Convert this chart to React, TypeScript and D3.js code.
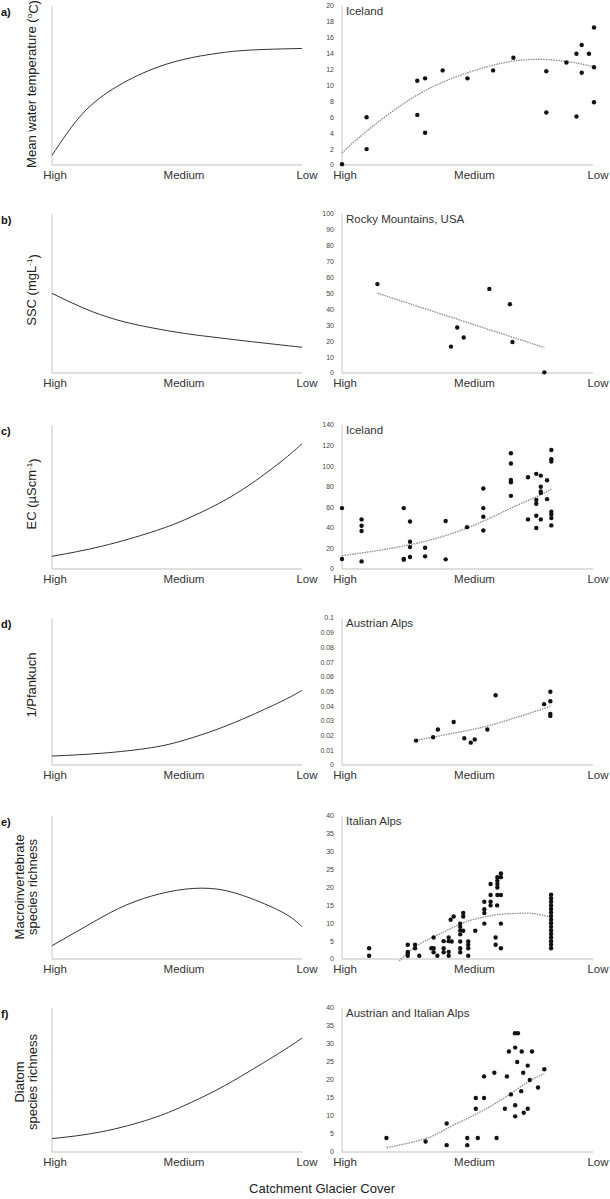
import React from "react";
import * as d3 from "d3";

// ---------- data ----------
const categories = ["High", "Medium", "Low"];
const panelLetters = ["a)", "b)", "c)", "d)", "e)", "f)"];
const regions = ["Iceland", "Rocky Mountains, USA", "Iceland", "Austrian Alps", "Italian Alps", "Austrian and Italian Alps"];
const xTitle = "Catchment Glacier Cover";

// conceptual curves (x: 0=High .. 1=Low, y: relative 0..1)
const conceptA: [number, number][] = [[0, 0.061], [0.123, 0.324], [0.258, 0.492], [0.392, 0.597], [0.526, 0.664], [0.66, 0.702], [0.795, 0.723], [1.0, 0.733]];
const conceptB: [number, number][] = [[0, 0.501], [0.128, 0.407], [0.262, 0.333], [0.396, 0.285], [0.53, 0.249], [0.664, 0.222], [0.799, 0.197], [1.0, 0.162]];
const conceptC: [number, number][] = [[0, 0.088], [0.199, 0.158], [0.398, 0.256], [0.531, 0.342], [0.664, 0.452], [0.797, 0.592], [0.93, 0.765], [1.0, 0.87]];
const conceptD: [number, number][] = [[0, 0.061], [0.199, 0.08], [0.398, 0.118], [0.531, 0.17], [0.664, 0.245], [0.797, 0.338], [0.93, 0.443], [1.0, 0.508]];
const conceptE: [number, number][] = [[0, 0.093], [0.133, 0.226], [0.266, 0.353], [0.398, 0.44], [0.531, 0.488], [0.664, 0.488], [0.797, 0.423], [0.93, 0.319], [1.0, 0.226]];
const conceptF: [number, number][] = [[0, 0.093], [0.197, 0.14], [0.395, 0.23], [0.526, 0.32], [0.658, 0.43], [0.789, 0.56], [0.921, 0.7], [1.0, 0.791]];

// y ticks
const ticksA = [0, 2, 4, 6, 8, 10, 12, 14, 16, 18, 20];
const ticksB = [0, 10, 20, 30, 40, 50, 60, 70, 80, 90, 100];
const ticksC = [0, 20, 40, 60, 80, 100, 120, 140];
const ticksD = [0, 0.01, 0.02, 0.03, 0.04, 0.05, 0.06, 0.07, 0.08, 0.09, 0.1];
const ticksE = [0, 5, 10, 15, 20, 25, 30, 35, 40];
const ticksF = [0, 5, 10, 15, 20, 25, 30, 35, 40];

// observations
const pointsA: [number, number][] = [
  [0, 0.1], [0.098, 6.0], [0.098, 2.0], [0.3, 10.6], [0.3, 6.3], [0.331, 10.9], [0.331, 4.05],
  [0.401, 11.9], [0.5, 10.9], [0.602, 11.9], [0.683, 13.5], [0.814, 11.8], [0.814, 6.6],
  [0.894, 12.9], [0.934, 14.0], [0.934, 6.1], [0.955, 15.1], [0.955, 11.6], [0.984, 14.0],
  [1.004, 17.3], [1.004, 12.3], [1.004, 7.9],
];
const trendA: [number, number][] = [[0, 1.5], [0.1, 4.3], [0.3, 8.8], [0.5, 11.6], [0.65, 12.9], [0.78, 13.3], [0.9, 13.0], [1.0, 12.4]];

const pointsB: [number, number][] = [
  [0.141, 55.9], [0.434, 16.6], [0.459, 28.6], [0.485, 22.3], [0.587, 52.9], [0.669, 43.3], [0.679, 19.5], [0.806, 0.4],
];
const trendB: [number, number][] = [[0.141, 50.2], [0.806, 16.0]];

const pointsC: [number, number][] = [
  [0, 59.2], [0, 9.7],
  [0.078, 48.2], [0.078, 42.0], [0.078, 36.9], [0.078, 7.4],
  [0.246, 59.2], [0.246, 9.7], [0.246, 9.1],
  [0.271, 46.2], [0.271, 26.5], [0.271, 21.3], [0.271, 11.6],
  [0.331, 20.7], [0.331, 12.3],
  [0.413, 46.6], [0.413, 9.4],
  [0.498, 40.7],
  [0.563, 78.2], [0.563, 59.2], [0.563, 50.8], [0.563, 37.5],
  [0.673, 112.5], [0.673, 102.5], [0.673, 86.6], [0.673, 84.4], [0.673, 71.1],
  [0.741, 89.2], [0.741, 48.2],
  [0.774, 92.5], [0.774, 67.2], [0.774, 63.4], [0.774, 51.8], [0.774, 39.8],
  [0.792, 90.8], [0.792, 79.9], [0.792, 75.3], [0.792, 74.0], [0.792, 48.2],
  [0.817, 86.3], [0.817, 67.9],
  [0.834, 115.7], [0.834, 106.7], [0.834, 104.4], [0.834, 55.6], [0.834, 53.0], [0.834, 49.5], [0.834, 42.4],
];
const trendC: [number, number][] = [[0, 12.9], [0.271, 23.6], [0.498, 39.8], [0.673, 59.2], [0.763, 68.9], [0.834, 77.6]];

const pointsD: [number, number][] = [
  [0.295, 0.0166], [0.363, 0.0189], [0.382, 0.0241], [0.445, 0.0293], [0.487, 0.0182], [0.513, 0.0152],
  [0.529, 0.0173], [0.579, 0.0241], [0.612, 0.0475], [0.805, 0.0414], [0.83, 0.0498], [0.83, 0.0434],
  [0.83, 0.0348], [0.83, 0.0334],
];
const trendD: [number, number][] = [[0.295, 0.0168], [0.496, 0.0234], [0.629, 0.0289], [0.83, 0.0398]];

const pointsE: [number, number][] = [
  [0.108, 3.0], [0.108, 0.9],
  [0.262, 4.0], [0.262, 2.0], [0.262, 1.6], [0.262, 0.9],
  [0.291, 4.0], [0.291, 3.0],
  [0.308, 0.9],
  [0.356, 3.0],
  [0.365, 6.0], [0.365, 3.0], [0.365, 1.9],
  [0.38, 0.9],
  [0.405, 5.0], [0.405, 3.0], [0.405, 1.9],
  [0.425, 6.0], [0.425, 5.0], [0.425, 2.0], [0.425, 0.9],
  [0.437, 4.9], [0.433, 11.0], [0.445, 11.9],
  [0.471, 9.9], [0.471, 9.0], [0.471, 8.0], [0.471, 6.9], [0.471, 4.9], [0.471, 3.0], [0.471, 1.9],
  [0.483, 12.9], [0.483, 11.9], [0.483, 7.9],
  [0.503, 4.9], [0.503, 4.0], [0.503, 3.0], [0.503, 0.9],
  [0.531, 7.9],
  [0.567, 16.0], [0.567, 13.9], [0.567, 12.9], [0.567, 9.9],
  [0.592, 21.0], [0.592, 17.9], [0.592, 16.0], [0.592, 15.0],
  [0.612, 6.0], [0.612, 4.0], [0.618, 15.0],
  [0.619, 22.9], [0.619, 21.9], [0.619, 21.0], [0.619, 20.0], [0.619, 17.9],
  [0.633, 23.9], [0.633, 22.9], [0.633, 17.9], [0.633, 9.9], [0.633, 3.0],
  [0.833, 18], [0.833, 17], [0.833, 16], [0.833, 15], [0.833, 14], [0.833, 13], [0.833, 12], [0.833, 11],
  [0.833, 10], [0.833, 9], [0.833, 8], [0.833, 7], [0.833, 6], [0.833, 5], [0.833, 4], [0.833, 3],
];
const trendE: [number, number][] = [[0.228, -0.55], [0.291, 3.4], [0.365, 6.2], [0.432, 8.5], [0.498, 10.5], [0.564, 11.7], [0.631, 12.5], [0.71, 12.8], [0.763, 12.7], [0.833, 11.7]];

const pointsF: [number, number][] = [
  [0.177, 3.9], [0.333, 2.9], [0.417, 7.9], [0.417, 1.9], [0.499, 3.9], [0.499, 1.9],
  [0.533, 15.0], [0.533, 12.0], [0.541, 3.9], [0.566, 21.0], [0.566, 15.0], [0.607, 22.0],
  [0.616, 3.9], [0.649, 12.0], [0.657, 21.0], [0.665, 27.9], [0.673, 16.0], [0.689, 33.0],
  [0.701, 33.0], [0.69, 29.0], [0.69, 13.0], [0.69, 9.9], [0.698, 25.0], [0.716, 27.9],
  [0.714, 16.9], [0.722, 22.0], [0.724, 10.9], [0.74, 24.0], [0.74, 12.0], [0.748, 20.0],
  [0.757, 27.9], [0.781, 17.9], [0.806, 23.0],
];
const trendF: [number, number][] = [[0.177, 1.2], [0.333, 3.7], [0.417, 6.5], [0.499, 9.3], [0.576, 12.1], [0.655, 15.4], [0.735, 19.2], [0.806, 21.8]];

// ---------- layout ----------
const W = 610;
const H = 1199;
const FONT = "'Liberation Sans', Arial, Helvetica, sans-serif";
const LEFT_X: [number, number] = [52, 302];
const RIGHT_X: [number, number] = [342, 593];
const ROWS = [
  { top: 6, bottom: 165 },
  { top: 214, bottom: 373 },
  { top: 425, bottom: 569 },
  { top: 618, bottom: 765 },
  { top: 816, bottom: 959 },
  { top: 1008, bottom: 1152 },
];
const AXIS_COLOR = "#d4d4d4";

type Panel = {
  concept: [number, number][];
  ticks: number[];
  points: [number, number][];
  trend: [number, number][];
  label: React.ReactNode;
  labelCenterY: number;
};

const panels: Panel[] = [
  {
    concept: conceptA, ticks: ticksA, points: pointsA, trend: trendA, labelCenterY: 84,
    label: [<tspan key="a">Mean water temperature (</tspan>, <tspan key="b" dy="-0.45em" fontSize="0.62em">o</tspan>, <tspan key="c" dy="0.45em">C)</tspan>],
  },
  {
    concept: conceptB, ticks: ticksB, points: pointsB, trend: trendB, labelCenterY: 290,
    label: [<tspan key="a">SSC (mgL</tspan>, <tspan key="b" dy="-0.45em" fontSize="0.62em">-1</tspan>, <tspan key="c" dy="0.45em">)</tspan>],
  },
  {
    concept: conceptC, ticks: ticksC, points: pointsC, trend: trendC, labelCenterY: 494,
    label: [<tspan key="a">EC (µScm</tspan>, <tspan key="b" dy="-0.45em" fontSize="0.62em">-1</tspan>, <tspan key="c" dy="0.45em">)</tspan>],
  },
  { concept: conceptD, ticks: ticksD, points: pointsD, trend: trendD, labelCenterY: 685, label: "1/Pfankuch" },
  { concept: conceptE, ticks: ticksE, points: pointsE, trend: trendE, labelCenterY: 887, label: ["Macroinvertebrate", "species richness"] },
  { concept: conceptF, ticks: ticksF, points: pointsF, trend: trendF, labelCenterY: 1082, label: ["Diatom", "species richness"] },
];

const fmtTick = (v: number) => String(+v.toFixed(3));

function CategoryLabels({ x0, x1, y }: { x0: number; x1: number; y: number }) {
  const offsets = [3, 7, 5];
  const pos = [x0, (x0 + x1) / 2, x1];
  return (
    <g fontSize={11.5} fill="#333" textAnchor="middle">
      {categories.map((c, i) => (
        <text key={c} x={pos[i] + offsets[i]} y={y}>{c}</text>
      ))}
    </g>
  );
}

function Row({ p, i }: { p: Panel; i: number }) {
  const { top, bottom } = ROWS[i];
  const xl = d3.scaleLinear().domain([0, 1]).range(LEFT_X);
  const yl = d3.scaleLinear().domain([0, 1]).range([bottom, top]);
  const conceptLine = d3.line<[number, number]>().x((d) => xl(d[0])).y((d) => yl(d[1])).curve(d3.curveNatural);

  const xr = d3.scaleLinear().domain([0, 1]).range(RIGHT_X);
  const ymax = p.ticks[p.ticks.length - 1];
  const yr = d3.scaleLinear().domain([0, ymax]).range([bottom, top]);
  const trendLine = d3.line<[number, number]>().x((d) => xr(d[0])).y((d) => yr(d[1])).curve(d3.curveNatural);

  const isTwoLine = Array.isArray(p.label) && typeof (p.label as any)[0] === "string";

  return (
    <g>
      <text x={1} y={top + 10} fontSize={11} fontWeight="bold" fill="#111">{panelLetters[i]}</text>

      {isTwoLine ? (
        <g transform={`translate(0,${p.labelCenterY})`}>
          {(p.label as string[]).map((s, k) => (
            <text key={k} transform={`translate(${19 + k * 13},0) rotate(-90)`} textAnchor="middle" dy="0.35em" fontSize={13} fill="#222">{s}</text>
          ))}
        </g>
      ) : (
        <text transform={`translate(31,${p.labelCenterY}) rotate(-90)`} textAnchor="middle" dy="0.35em" fontSize={13} fill="#222">{p.label}</text>
      )}

      {/* left conceptual panel */}
      <line x1={LEFT_X[0]} x2={LEFT_X[0]} y1={top} y2={bottom} stroke={AXIS_COLOR} strokeWidth={1.3} />
      <line x1={LEFT_X[0]} x2={LEFT_X[1]} y1={bottom} y2={bottom} stroke={AXIS_COLOR} strokeWidth={1.3} />
      <path d={conceptLine(p.concept) || ""} fill="none" stroke="#333" strokeWidth={1} />
      <CategoryLabels x0={LEFT_X[0]} x1={LEFT_X[1]} y={bottom + 14} />

      {/* right data panel */}
      <line x1={RIGHT_X[0]} x2={RIGHT_X[0]} y1={top} y2={bottom} stroke={AXIS_COLOR} strokeWidth={1.3} />
      <line x1={RIGHT_X[0]} x2={RIGHT_X[1]} y1={bottom} y2={bottom} stroke={AXIS_COLOR} strokeWidth={1.3} />
      <g fontSize={7} fill="#444" textAnchor="end">
        {p.ticks.map((t) => (
          <text key={t} x={RIGHT_X[0] - 8} y={yr(t)} dy="0.35em">{fmtTick(t)}</text>
        ))}
      </g>
      <text x={RIGHT_X[0] + 4} y={top + 9} fontSize={11.5} fill="#333">{regions[i]}</text>
      <path d={trendLine(p.trend) || ""} fill="none" stroke="#8a8a8a" strokeWidth={1.3} strokeDasharray="1.5,1" />
      {p.points.map((d, k) => (
        <circle key={k} cx={xr(d[0])} cy={yr(d[1])} r={2.2} fill="#111" />
      ))}
      <CategoryLabels x0={RIGHT_X[0]} x1={RIGHT_X[1]} y={bottom + 14} />
    </g>
  );
}

export default function App() {
  return (
    <svg width={W} height={H} viewBox={`0 0 ${W} ${H}`} style={{ position: "absolute", left: 0, top: 0, background: "#fff" }} fontFamily={FONT}>
      <rect width={W} height={H} fill="#fff" />
      {panels.map((p, i) => (
        <Row key={i} p={p} i={i} />
      ))}
      <text x={322} y={1193} textAnchor="middle" fontSize={13} fill="#222">{xTitle}</text>
    </svg>
  );
}
